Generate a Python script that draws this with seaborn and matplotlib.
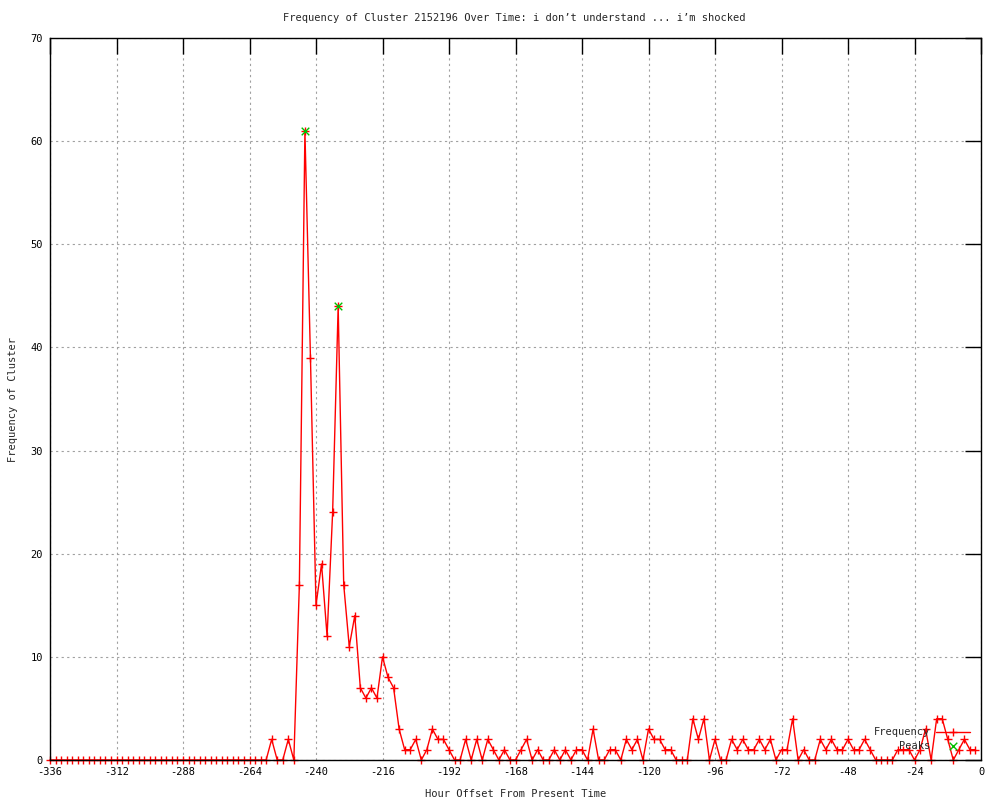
import numpy as np
import pandas as pd
import seaborn as sns
import matplotlib
import matplotlib.pyplot as plt

matplotlib.use('Agg')

# hour offsets, every 2 hours from -336 to -2
hours = list(range(-336, 0, 2))

frequency = [
    0, 0, 0, 0, 0, 0, 0, 0, 0, 0, 0, 0,        # -336 .. -314
    0, 0, 0, 0, 0, 0, 0, 0, 0, 0, 0, 0,        # -312 .. -290
    0, 0, 0, 0, 0, 0, 0, 0, 0, 0, 0, 0,        # -288 .. -266
    0, 0, 0, 0, 2, 0, 0, 2, 0, 17, 61, 39,     # -264 .. -242
    15, 19, 12, 24, 44, 17, 11, 14, 7, 6, 7, 6,  # -240 .. -218
    10, 8, 7, 3, 1, 1, 2, 0, 1, 3, 2, 2,       # -216 .. -194
    1, 0, 0, 2, 0, 2, 0, 2, 1, 0, 1, 0,        # -192 .. -170
    0, 1, 2, 0, 1, 0, 0, 1, 0, 1, 0, 1,        # -168 .. -146
    1, 0, 3, 0, 0, 1, 1, 0, 2, 1, 2, 0,        # -144 .. -122
    3, 2, 2, 1, 1, 0, 0, 0, 4, 2, 4, 0,        # -120 .. -98
    2, 0, 0, 2, 1, 2, 1, 1, 2, 1, 2, 0,        # -96 .. -74
    1, 1, 4, 0, 1, 0, 0, 2, 1, 2, 1, 1,        # -72 .. -50
    2, 1, 1, 2, 1, 0, 0, 0, 0, 1, 1, 1,        # -48 .. -26
    0, 1, 3, 0, 4, 4, 2, 0, 1, 2, 1, 1,        # -24 .. -2
]

peak_hours = [-244, -232]
peak_values = [61, 44]

title = 'Frequency of Cluster 2152196 Over Time: i don’t understand ... i’m shocked'

sns.set_style('white')
plt.rcParams['font.family'] = ['DejaVu Sans Mono']
plt.rcParams['font.size'] = 7.5
plt.rcParams['axes.unicode_minus'] = False

df = pd.DataFrame({'hour': hours, 'freq': frequency})
peaks = pd.DataFrame({'hour': peak_hours, 'freq': peak_values})

fig = plt.figure(figsize=(10, 8), dpi=100)
ax = fig.add_axes([0.05, 0.05, 0.931, 0.9025])

sns.lineplot(data=df, x='hour', y='freq', ax=ax, color='red', lw=1,
             marker='+', markersize=6, markeredgewidth=1, markeredgecolor='red',
             label='Frequency', clip_on=False, zorder=3)
sns.scatterplot(data=peaks, x='hour', y='freq', ax=ax, color='#00c000',
                marker='x', s=30, linewidth=1, label='Peaks', zorder=4)

ax.set_xlim(-336, 0)
ax.set_ylim(0, 70)
ax.set_xticks(np.arange(-336, 1, 24))
ax.set_yticks(np.arange(0, 71, 10))

ax.grid(True, color='#a0a0a0', linestyle=(0, (2, 3)), linewidth=0.8)
ax.set_axisbelow(True)
ax.tick_params(direction='in', length=11.5, width=1, top=True, right=True,
               labelsize=7.5, pad=5, colors='black')
for s in ax.spines.values():
    s.set_color('black')
    s.set_linewidth(1)
    s.set_zorder(5)

ax.set_xlabel('Hour Offset From Present Time', fontsize=7.5)
ax.set_ylabel('Frequency of Cluster', fontsize=7.5)
ax.xaxis.set_label_coords(0.5, -0.040)
ax.yaxis.set_label_coords(-0.0344, 0.5)

fig.text(0.5145, 1 - 18 / 800, title, ha='center', va='center', fontsize=7.5)

ax.legend(loc='lower right', bbox_to_anchor=(0.988, 0.0125), frameon=False,
          markerfirst=False, handlelength=3.2, handletextpad=0.6,
          labelspacing=0.35, borderpad=0, borderaxespad=0, fontsize=7.5,
          numpoints=1, scatterpoints=1)

fig.savefig('out.png', dpi=100)
